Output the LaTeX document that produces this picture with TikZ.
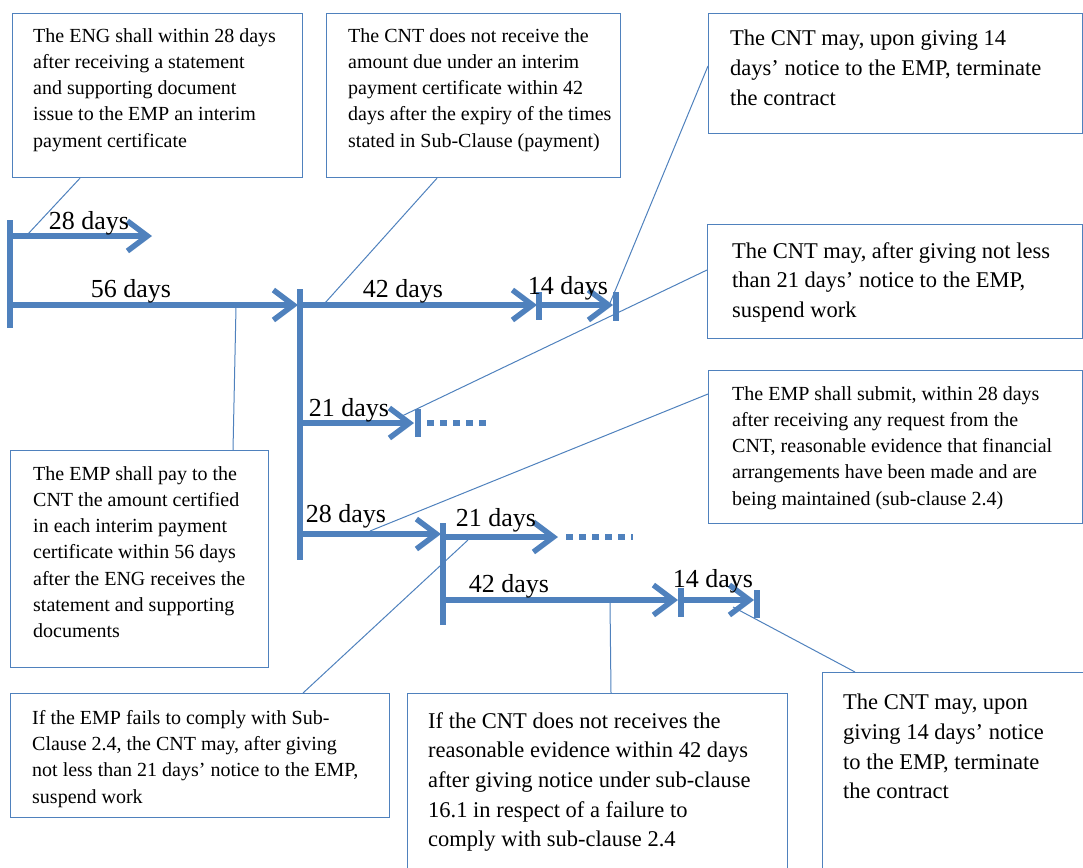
\documentclass[tikz,border=0pt]{standalone}
\usepackage{fontspec}
\setmainfont{Liberation Serif}
\usetikzlibrary{arrows.meta}
\definecolor{blu}{RGB}{79,129,189}
\tikzset{
  riquadro/.style={draw=blu, line width=1.2pt, anchor=north west, inner sep=0pt},
  testo/.style={anchor=north west, align=left, inner sep=0pt, font=\fontsize{20}{26.3}\selectfont},
  testog/.style={anchor=north west, align=left, inner sep=0pt, font=\fontsize{22.5}{29.7}\selectfont},
  giorni/.style={anchor=base, inner sep=0pt, font=\fontsize{26}{30}\selectfont},
  freccia/.style={blu, line width=5.5pt, -{Straight Barb[length=20pt,width=30pt]}},
  barra/.style={blu, line width=5.5pt},
  punti/.style={blu, line width=5.5pt, dash pattern=on 7pt off 6pt},
  filo/.style={blu, line width=1pt}
}
\begin{document}
\begin{tikzpicture}[x=1pt, y=-1pt]
		\useasboundingbox (0,0) rectangle (1083,867);

		% Riquadri
		\node[riquadro, minimum width=290pt, minimum height=164pt] (eng) at (12,13) {};
		\node[riquadro, minimum width=294pt, minimum height=164pt] (cnt) at (326,13) {};
		\node[riquadro, minimum width=374pt, minimum height=120pt] (term) at (708,13) {};
		\node[riquadro, minimum width=375pt, minimum height=114pt] (susp) at (707,224) {};
		\node[riquadro, minimum width=374pt, minimum height=153pt] (evid) at (708,370) {};
		\node[riquadro, minimum width=258pt, minimum height=217pt] (pay) at (10,450) {};
		\node[riquadro, minimum width=379pt, minimum height=124pt] (fail) at (10,693) {};
		\node[riquadro, minimum width=380pt, minimum height=200pt] (norec) at (407,693) {};
		\node[riquadro, minimum width=270pt, minimum height=220pt] (termb) at (822,672) {};

		% Testi
		\node[testo] (engt) at (33,28) {The ENG shall within 28 days\\after receiving a statement\\and supporting document\\issue to the EMP an interim\\payment certificate};
		\node[testo] (cntt) at (348,28) {The CNT does not receive the\\amount due under an interim\\payment certificate within 42\\days after the expiry of the times\\stated in Sub-Clause (payment)};
		\node[testog] (termt) at (730,30) {The CNT may, upon giving 14\\days' notice to the EMP, terminate\\the contract};
		\node[testog] (suspt) at (732,242) {The CNT may, after giving not less\\than 21 days' notice to the EMP,\\suspend work};
		\node[testo] (evidt) at (732,386) {The EMP shall submit, within 28 days\\after receiving any request from the\\CNT, reasonable evidence that financial\\arrangements have been made and are\\being maintained (sub-clause 2.4)};
		\node[testo] (payt) at (33,466) {The EMP shall pay to the\\CNT the amount certified\\in each interim payment\\certificate within 56 days\\after the ENG receives the\\statement and supporting\\documents};
		\node[testo] (failt) at (32,710) {If the EMP fails to comply with Sub-\\Clause 2.4, the CNT may, after giving\\not less than 21 days' notice to the EMP,\\suspend work};
		\node[testog] (norect) at (428,712) {If the CNT does not receives the\\reasonable evidence within 42 days\\after giving notice under sub-clause\\16.1 in respect of a failure to\\comply with sub-clause 2.4};
		\node[testog] (termbt) at (843,694) {The CNT may, upon\\giving 14 days' notice\\to the EMP, terminate\\the contract};

		% Linea dei tempi
		\draw[barra] (10,220) -- (10,328);
		\draw[freccia] (10,236) -- (152,236);
		\draw[freccia] (10,305) -- (298,305);
		\draw[barra] (300,289) -- (300,560);
		\draw[freccia] (300,305) -- (537,305);
		\draw[barra] (539,292) -- (539,320);
		\draw[freccia] (539,305) -- (613,305);
		\draw[barra] (616,292) -- (616,321);

		\draw[freccia] (300,423) -- (414,423);
		\draw[barra] (418,409) -- (418,437);
		\draw[punti] (427,423) -- (486,423);

		\draw[freccia] (300,534) -- (441,534);
		\draw[barra] (443,523) -- (443,625);
		\draw[freccia] (443,537) -- (558,537);
		\draw[punti] (566,537) -- (633,537);
		\draw[freccia] (443,600) -- (678,600);
		\draw[barra] (681,588) -- (681,617);
		\draw[freccia] (681,600) -- (754,600);
		\draw[barra] (757,590) -- (757,618);

		% Durate
		\node[giorni] (g28a) at (89,229) {28 days};
		\node[giorni] (g56) at (131,297) {56 days};
		\node[giorni] (g42a) at (403,297) {42 days};
		\node[giorni] (g14a) at (568,294) {14 days};
		\node[giorni] (g21a) at (349,416) {21 days};
		\node[giorni] (g28b) at (346,522) {28 days};
		\node[giorni] (g21b) at (496,526) {21 days};
		\node[giorni] (g42b) at (509,592) {42 days};
		\node[giorni] (g14b) at (713,587) {14 days};

		% Collegamenti
		\coordinate (c28) at (28,234);
		\coordinate (c42) at (325,303);
		\coordinate (c14) at (610,303);
		\coordinate (c21) at (402,416);
		\coordinate (c28b) at (370,531);
		\coordinate (c56) at (236,307);
		\coordinate (c21b) at (468,540);
		\coordinate (c42b) at (610,602);
		\coordinate (c14b) at (733,607);
		\draw[filo] ([xshift=68pt]eng.south west) -- (c28);
		\draw[filo] ([xshift=111pt]cnt.south west) -- (c42);
		\draw[filo] ([yshift=-53pt]term.north west) -- (c14);
		\draw[filo] ([yshift=-46pt]susp.north west) -- (c21);
		\draw[filo] ([yshift=-24pt]evid.north west) -- (c28b);
		\draw[filo] ([xshift=223pt]pay.north west) -- (c56);
		\draw[filo] ([xshift=293pt]fail.north west) -- (c21b);
		\draw[filo] ([xshift=204pt]norec.north west) -- (c42b);
		\draw[filo] ([xshift=33pt]termb.north west) -- (c14b);
	\end{tikzpicture}
\end{document}
